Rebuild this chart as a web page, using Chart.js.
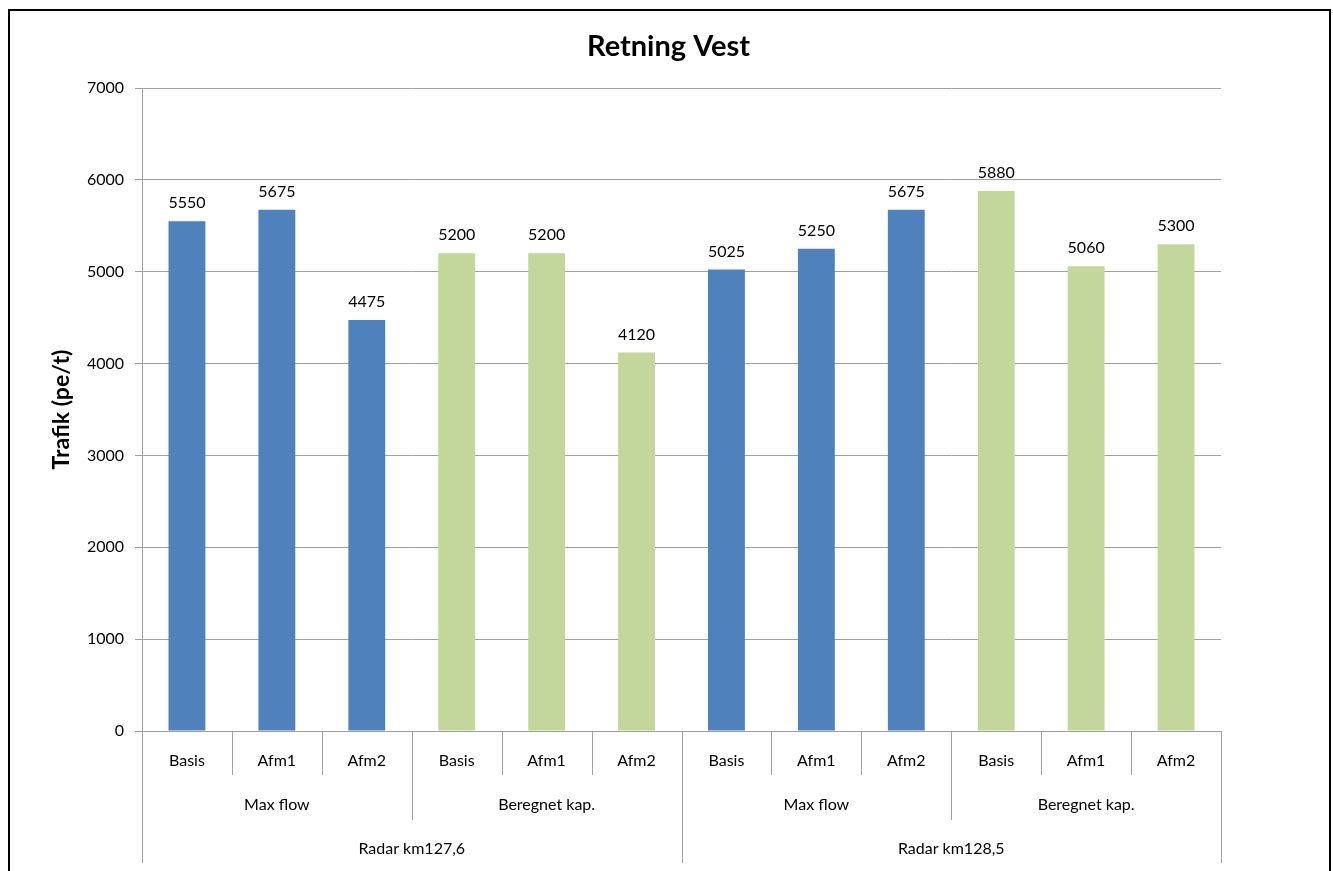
<!DOCTYPE html>
<html>
<head>
<meta charset="utf-8">
<script src="https://cdn.jsdelivr.net/npm/chart.js@4.4.0/dist/chart.umd.min.js"></script>
<style>
  html, body { margin: 0; padding: 0; background: #fff; overflow: hidden; }
  #frame { position: absolute; left: 8px; top: 9px; width: 1323px; height: 900px; border: 2px solid #000; box-sizing: border-box; }
  #chart { position: absolute; left: 0; top: 0; }
</style>
</head>
<body>
<div id="frame"></div>
<canvas id="chart" width="1333" height="871"></canvas>
<script>
// data
const subLabels = ['Basis', 'Afm1', 'Afm2', 'Basis', 'Afm1', 'Afm2', 'Basis', 'Afm1', 'Afm2', 'Basis', 'Afm1', 'Afm2'];
const methodGroups = ['Max flow', 'Beregnet kap.', 'Max flow', 'Beregnet kap.'];
const radarGroups = ['Radar km127,6', 'Radar km128,5'];
const trafik = [5550, 5675, 4475, 5200, 5200, 4120, 5025, 5250, 5675, 5880, 5060, 5300];
const yTicks = [0, 1000, 2000, 3000, 4000, 5000, 6000, 7000];
const chartTitle = 'Retning Vest';

const BLUE = '#4F81BD';
const GREEN = '#C3D69B';
const FONT = 'Lato, "Open Sans", sans-serif';

// colour each bar by its method group (3 bars per group)
const barColors = trafik.map((v, i) => methodGroups[Math.floor(i / 3)] === 'Max flow' ? BLUE : GREEN);

// title centred over the whole frame, like excel does
const frameTitle = {
  id: 'frameTitle',
  afterDraw(chart) {
    const ctx = chart.ctx;
    ctx.save();
    ctx.font = 'bold 29px ' + FONT;
    ctx.fillStyle = '#000';
    ctx.textAlign = 'center';
    ctx.textBaseline = 'middle';
    ctx.fillText(chartTitle, chart.width / 2 + 2, 47);
    ctx.restore();
  }
};

// value labels above bars
const valueLabels = {
  id: 'valueLabels',
  afterDatasetsDraw(chart) {
    const ctx = chart.ctx;
    const meta = chart.getDatasetMeta(0);
    ctx.save();
    ctx.font = '16px ' + FONT;
    ctx.fillStyle = '#000';
    ctx.textAlign = 'center';
    ctx.textBaseline = 'middle';
    meta.data.forEach((bar, i) => {
      ctx.fillText(String(trafik[i]), bar.x, bar.y - 18);
    });
    ctx.restore();
  }
};

// multi-level category axis (Excel style)
const multiAxis = {
  id: 'multiAxis',
  afterDraw(chart) {
    const ctx = chart.ctx;
    const xs = chart.scales.x;
    const base = chart.chartArea.bottom;
    const n = subLabels.length;
    const step = xs.getPixelForValue(1) - xs.getPixelForValue(0);
    const edge = i => xs.getPixelForValue(0) - step / 2 + i * step;
    const row1 = 44, row2 = 89, row3 = 132;

    ctx.save();
    ctx.strokeStyle = '#A0A0A0';
    ctx.lineWidth = 1;
    ctx.beginPath();
    ctx.moveTo(edge(0), base + 0.5);
    ctx.lineTo(edge(n), base + 0.5);
    for (let i = 0; i <= n; i++) {
      let len = row1;
      if (i % 3 === 0) len = row2;
      if (i % 6 === 0) len = row3;
      const x = Math.round(edge(i)) + 0.5;
      ctx.moveTo(x, base);
      ctx.lineTo(x, base + len);
    }
    ctx.stroke();

    ctx.fillStyle = '#000';
    ctx.textAlign = 'center';
    ctx.textBaseline = 'middle';
    ctx.font = '16px ' + FONT;
    subLabels.forEach((l, i) => ctx.fillText(l, xs.getPixelForValue(i), base + 30));
    methodGroups.forEach((l, g) => ctx.fillText(l, (edge(g * 3) + edge(g * 3 + 3)) / 2, base + 74));
    radarGroups.forEach((l, g) => ctx.fillText(l, (edge(g * 6) + edge(g * 6 + 6)) / 2, base + 118));
    ctx.restore();
  }
};

new Chart(document.getElementById('chart'), {
  type: 'bar',
  data: {
    labels: subLabels,
    datasets: [{
      data: trafik,
      backgroundColor: barColors,
      barPercentage: 0.41,
      categoryPercentage: 1.0
    }]
  },
  options: {
    responsive: false,
    animation: false,
    layout: { padding: { top: 88, right: 112, bottom: 0, left: 48 } },
    plugins: {
      legend: { display: false },
      tooltip: { enabled: false },
      title: { display: false }
    },
    scales: {
      x: {
        type: 'category',
        grid: { display: false },
        border: { display: false },
        ticks: { display: false },
        afterFit(scale) { scale.height = 140; }
      },
      y: {
        min: 0,
        max: 7000,
        afterBuildTicks(scale) { scale.ticks = yTicks.map(v => ({ value: v })); },
        afterFit(scale) { scale.width = 94; },
        ticks: {
          color: '#000',
          font: { family: FONT, size: 16 },
          padding: 11,
          callback: v => String(v)
        },
        grid: { color: '#A0A0A0', tickLength: 7 },
        border: { color: '#A0A0A0' },
        title: {
          display: true,
          text: 'Trafik (pe/t)',
          color: '#000',
          font: { family: FONT, size: 23, weight: 'bold' },
          padding: { top: 0, bottom: 0 }
        }
      }
    }
  },
  plugins: [valueLabels, multiAxis, frameTitle]
});
</script>
</body>
</html>
